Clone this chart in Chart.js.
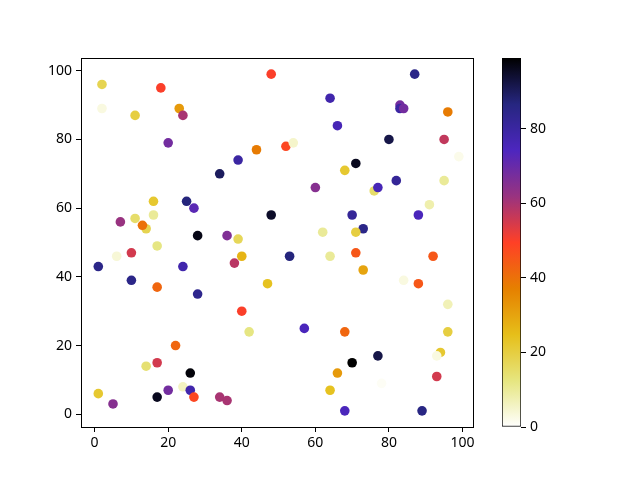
<!DOCTYPE html>
<html>
<head>
<meta charset="utf-8">
<script src="https://cdn.jsdelivr.net/npm/chart.js@4.4.1/dist/chart.umd.min.js"></script>
<style>
body { margin: 0; background: #fff; }
#wrap { position: relative; width: 640px; height: 480px; }
#scatter { position: absolute; left: 0; top: 0; }
#cbar { position: absolute; left: 502px; top: 0; }
</style>
</head>
<body>
<div id="wrap">
	<canvas id="scatter" width="640" height="480"></canvas>
	<canvas id="cbar" width="138" height="480"></canvas>
</div>
<script>
"use strict";

// point data
var xValues = [2, 2, 18, 48, 11, 23, 24, 20, 44, 39, 34, 16, 25, 27, 48, 16, 11, 7, 14, 13, 28, 36, 39,
	87, 64, 83, 83, 84, 96, 66, 80, 95, 52, 54, 99, 71, 68, 60, 76, 77, 82, 95, 91, 88, 70, 73, 71, 62,
	17, 6, 10, 40, 38, 1, 24, 10, 17, 28, 47, 40, 42, 22, 17, 14, 26, 24, 26, 27, 20, 17, 34, 36, 1, 5,
	53, 64, 71, 92, 73, 84, 88, 96, 57, 68, 96, 77, 94, 93, 70, 66, 93, 78, 64, 68, 89];
var yValues = [96, 89, 95, 99, 87, 89, 87, 79, 77, 74, 70, 62, 62, 60, 58, 58, 57, 56, 54, 55, 52, 52, 51,
	99, 92, 90, 89, 89, 88, 84, 80, 80, 78, 79, 75, 73, 71, 66, 65, 66, 68, 68, 61, 58, 58, 54, 53, 53,
	49, 46, 47, 46, 44, 43, 43, 39, 37, 35, 38, 30, 24, 20, 15, 14, 12, 8, 7, 5, 7, 5, 5, 4, 6, 3,
	46, 46, 47, 46, 42, 39, 38, 32, 25, 24, 24, 17, 18, 17, 15, 12, 11, 9, 7, 1, 1];
var cValues = [18, 3, 50, 50, 20, 32, 60, 68, 38, 80, 90, 22, 87, 72, 95, 10, 15, 62, 18, 40, 97, 66, 17,
	85, 78, 68, 80, 68, 38, 76, 92, 57, 48, 5, 2, 96, 22, 65, 15, 76, 82, 10, 8, 75, 82, 85, 20, 10,
	12, 4, 55, 27, 58, 85, 78, 85, 42, 84, 24, 50, 12, 42, 55, 14, 98, 6, 78, 48, 68, 96, 60, 60, 22, 65,
	87, 10, 45, 45, 30, 3, 45, 7, 75, 42, 20, 92, 22, 3, 99, 32, 55, 1, 24, 75, 86];

var xTicks = [0, 20, 40, 60, 80, 100];
var yTicks = [0, 20, 40, 60, 80, 100];
var cTicks = [0, 20, 40, 60, 80];
var cMin = 0;
var cMax = 99;

// CMRmap segments, used reversed
var cmrRed = [[0, 0], [0.125, 0.15], [0.25, 0.3], [0.375, 0.6], [0.5, 1], [0.625, 0.9], [0.75, 0.9], [0.875, 0.9], [1, 1]];
var cmrGreen = [[0, 0], [0.125, 0.15], [0.25, 0.15], [0.375, 0.2], [0.5, 0.25], [0.625, 0.5], [0.75, 0.75], [0.875, 0.9], [1, 1]];
var cmrBlue = [[0, 0], [0.125, 0.5], [0.25, 0.75], [0.375, 0.5], [0.5, 0.15], [0.625, 0], [0.75, 0.1], [0.875, 0.5], [1, 1]];

function segValue(seg, t) {
	for (var i = 1; i < seg.length; i++) {
		if (t <= seg[i][0]) {
			var f = (t - seg[i - 1][0]) / (seg[i][0] - seg[i - 1][0]);
			return seg[i - 1][1] + f * (seg[i][1] - seg[i - 1][1]);
		}
	}
	return seg[seg.length - 1][1];
}

function cmrColor(v) {
	var t = 1 - (v - cMin) / (cMax - cMin);
	t = Math.max(0, Math.min(1, t));
	return 'rgb(' + Math.round(segValue(cmrRed, t) * 255) + ',' +
		Math.round(segValue(cmrGreen, t) * 255) + ',' +
		Math.round(segValue(cmrBlue, t) * 255) + ')';
}

function setTicks(values) {
	return function (scale) {
		scale.ticks = values.map(function (v) { return { value: v }; });
	};
}

Chart.defaults.font.family = "'Noto Sans', 'DejaVu Sans', sans-serif";
Chart.defaults.font.size = 14;
Chart.defaults.color = '#000';

var points = xValues.map(function (x, i) { return { x: x, y: yValues[i] }; });
var pointColors = cValues.map(cmrColor);

// box round the plot area
var frame = {
	id: 'frame',
	afterDraw: function (chart) {
		var a = chart.chartArea;
		var ctx = chart.ctx;
		ctx.save();
		ctx.strokeStyle = '#000';
		ctx.lineWidth = 1;
		ctx.strokeRect(Math.round(a.left) + 0.5, Math.round(a.top) + 0.5,
			Math.round(a.right - a.left), Math.round(a.bottom - a.top));
		ctx.restore();
	}
};

var tickGrid = {
	drawOnChartArea: false,
	drawTicks: true,
	tickLength: 5,
	tickColor: '#000',
	lineWidth: 1
};

new Chart(document.getElementById('scatter'), {
	type: 'scatter',
	data: {
		datasets: [{
			data: points,
			pointBackgroundColor: pointColors,
			pointBorderWidth: 0,
			pointRadius: 4.8,
			pointHoverRadius: 4.8
		}]
	},
	plugins: [frame],
	options: {
		responsive: false,
		animation: false,
		events: [],
		layout: { padding: { left: 0, top: 58, right: 167, bottom: 0 } },
		plugins: {
			legend: { display: false },
			tooltip: { enabled: false }
		},
		scales: {
			x: {
				type: 'linear',
				min: -3.7,
				max: 102.85,
				grid: tickGrid,
				border: { display: false },
				ticks: { padding: 3, color: '#000' },
				afterBuildTicks: setTicks(xTicks),
				afterFit: function (s) { s.height = 53; }
			},
			y: {
				type: 'linear',
				min: -3.7,
				max: 103.7,
				grid: tickGrid,
				border: { display: false },
				ticks: { padding: 4, color: '#000' },
				afterBuildTicks: setTicks(yTicks),
				afterFit: function (s) { s.width = 81; }
			}
		}
	}
});

// colorbar
new Chart(document.getElementById('cbar'), {
	type: 'bar',
	data: {
		labels: [''],
		datasets: [{
			data: [[cMin, cMax]],
			backgroundColor: function (context) {
				var ca = context.chart.chartArea;
				if (!ca) return null;
				var g = context.chart.ctx.createLinearGradient(0, ca.bottom, 0, ca.top);
				for (var i = 0; i <= 32; i++) {
					g.addColorStop(i / 32, cmrColor(cMin + (cMax - cMin) * i / 32));
				}
				return g;
			},
			borderColor: '#000',
			borderWidth: 1,
			borderSkipped: false,
			barPercentage: 1,
			categoryPercentage: 1
		}]
	},
	options: {
		responsive: false,
		animation: false,
		events: [],
		layout: { padding: { left: 0, top: 58, right: 0, bottom: 53 } },
		plugins: {
			legend: { display: false },
			tooltip: { enabled: false }
		},
		scales: {
			x: { display: false },
			y: {
				position: 'right',
				min: cMin,
				max: cMax,
				grid: tickGrid,
				border: { display: false },
				ticks: { padding: 4, color: '#000' },
				afterBuildTicks: setTicks(cTicks),
				afterFit: function (s) { s.width = 119; }
			}
		}
	}
});
</script>
</body>
</html>
